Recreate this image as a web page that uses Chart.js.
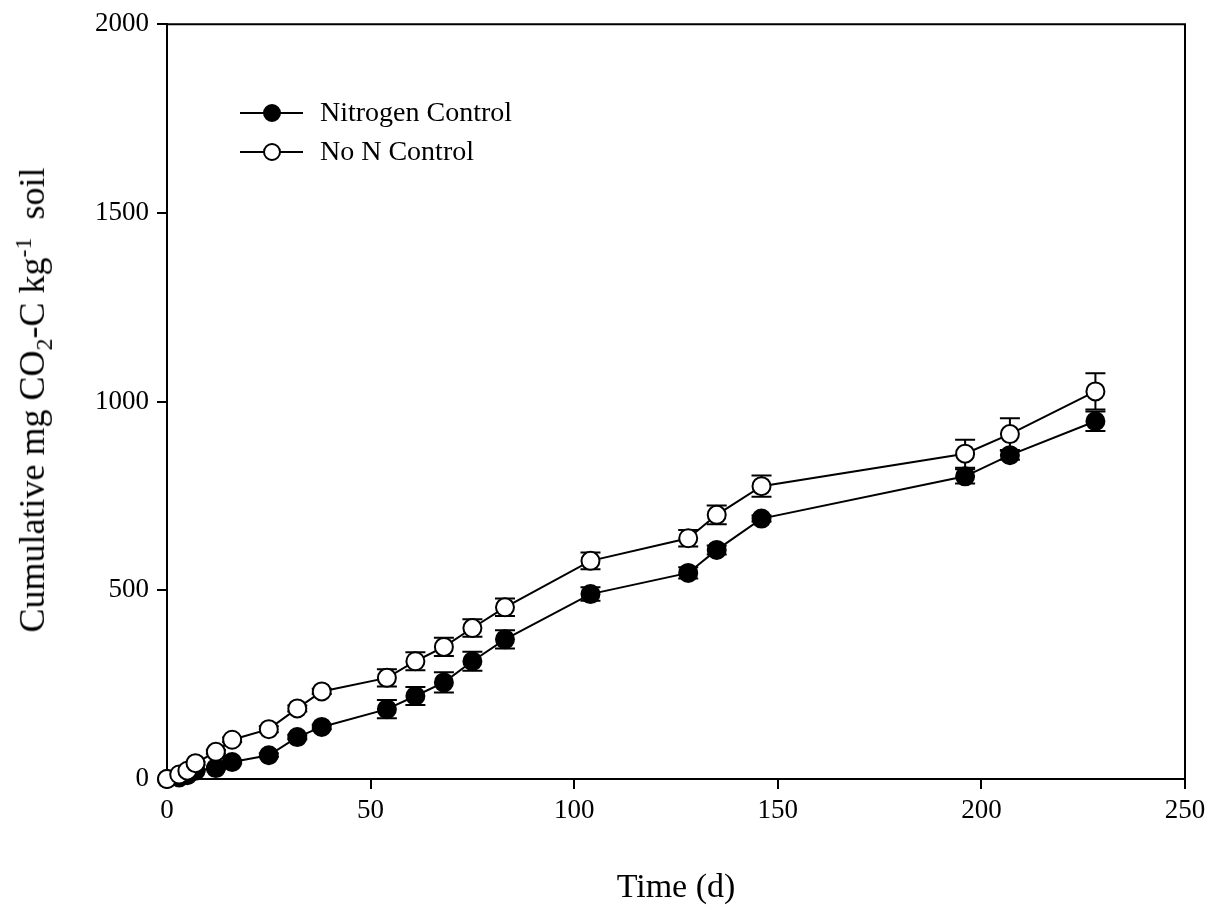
<!DOCTYPE html>
<html>
<head>
<meta charset="utf-8">
<script src="https://cdn.jsdelivr.net/npm/chart.js@4/dist/chart.umd.min.js"></script>
<style>
  html, body { margin: 0; padding: 0; background: #fff; }
  #wrap { position: relative; width: 1214px; height: 912px; }
  #ytitle {
    position: absolute; left: 34px; top: 400px;
    transform: translate(-50%, -50%) rotate(-90deg);
    white-space: nowrap;
    font-family: "Liberation Serif", "Times New Roman", serif;
    font-size: 36px; color: #000;
  }
  #ytitle sub, #ytitle sup { font-size: 24px; }
</style>
</head>
<body>
<div id="wrap">
  <canvas id="co2Chart" width="1214" height="912"></canvas>
  <div id="ytitle">Cumulative mg CO<sub>2</sub>-C kg<sup>-1</sup>&nbsp; soil</div>
</div>
<script>
// days of incubation
const days = [0, 3, 5, 7, 12, 16, 25, 32, 38, 54, 61, 68, 75, 83, 104, 128, 135, 146, 196, 207, 228];

// cumulative CO2-C, mg/kg soil
const nitrogenControl = [0, 4, 10, 22, 29, 45, 63, 111, 138, 185, 220, 256, 312, 370, 490, 546, 607, 690, 802, 858, 948];
const nitrogenErr     = [0, 1, 2, 3, 4, 4, 5, 6, 6, 24, 24, 27, 25, 24, 18, 15, 12, 8, 19, 12, 26];

const noNControl = [0, 12, 22, 42, 72, 104, 132, 187, 232, 268, 312, 350, 400, 455, 578, 638, 700, 776, 862, 914, 1027];
const noNErr     = [0, 2, 3, 4, 5, 6, 8, 8, 7, 23, 24, 24, 23, 23, 22, 22, 25, 28, 37, 42, 48];

const xTicks = [0, 50, 100, 150, 200, 250];
const yTicks = [0, 500, 1000, 1500, 2000];

const serif = '"Liberation Serif", "Times New Roman", serif';

function toPoints(xs, ys, errs) {
    return xs.map((x, i) => ({ x: x, y: ys[i], err: errs[i] }));
}

// vertical error bars with caps, drawn under the markers
const errorBars = {
    id: 'errorBars',
    beforeDatasetsDraw(chart) {
        const ctx = chart.ctx;
        const xs = chart.scales.x, ys = chart.scales.y;
        ctx.save();
        ctx.strokeStyle = '#000';
        ctx.lineWidth = 2;
        chart.data.datasets.forEach(ds => {
            ds.data.forEach(p => {
                if (!p.err) return;
                const px = xs.getPixelForValue(p.x);
                const top = ys.getPixelForValue(p.y + p.err);
                const bot = ys.getPixelForValue(p.y - p.err);
                ctx.beginPath();
                ctx.moveTo(px, top); ctx.lineTo(px, bot);
                ctx.moveTo(px - 10, top); ctx.lineTo(px + 10, top);
                ctx.moveTo(px - 10, bot); ctx.lineTo(px + 10, bot);
                ctx.stroke();
            });
        });
        ctx.restore();
    }
};

// closed frame + line/marker legend
const frameAndLegend = {
    id: 'frameAndLegend',
    afterDraw(chart) {
        const ctx = chart.ctx;
        const a = chart.chartArea;
        ctx.save();
        ctx.strokeStyle = '#000';
        ctx.lineWidth = 2;
        ctx.beginPath();
        ctx.moveTo(a.left, a.top); ctx.lineTo(a.right, a.top); ctx.lineTo(a.right, a.bottom);
        ctx.stroke();

        const items = [
            { label: 'Nitrogen Control', fill: '#000', y: 113 },
            { label: 'No N Control', fill: '#fff', y: 152 }
        ];
        items.forEach(it => {
            ctx.beginPath();
            ctx.moveTo(240, it.y); ctx.lineTo(303, it.y);
            ctx.stroke();
            ctx.beginPath();
            ctx.arc(272, it.y, 8, 0, Math.PI * 2);
            ctx.fillStyle = it.fill;
            ctx.fill();
            ctx.stroke();
            ctx.fillStyle = '#000';
            ctx.font = '28px ' + serif;
            ctx.textBaseline = 'middle';
            ctx.fillText(it.label, 320, it.y + 1);
        });
        ctx.restore();
    }
};

const ctx = document.getElementById('co2Chart').getContext('2d');

new Chart(ctx, {
    type: 'line',
    data: {
        datasets: [
            {
                label: 'Nitrogen Control',
                data: toPoints(days, nitrogenControl, nitrogenErr),
                borderColor: '#000',
                borderWidth: 2,
                backgroundColor: '#000',
                pointBackgroundColor: '#000',
                pointBorderColor: '#000',
                pointBorderWidth: 2,
                pointRadius: 9,
                tension: 0,
                clip: false,
                order: 1
            },
            {
                label: 'No N Control',
                data: toPoints(days, noNControl, noNErr),
                borderColor: '#000',
                borderWidth: 2,
                backgroundColor: '#fff',
                pointBackgroundColor: '#fff',
                pointBorderColor: '#000',
                pointBorderWidth: 2,
                pointRadius: 9,
                tension: 0,
                clip: false,
                order: 0
            }
        ]
    },
    options: {
        responsive: false,
        animation: false,
        layout: { padding: { left: 0, right: 29, top: 22, bottom: 0 } },
        plugins: {
            legend: { display: false },
            tooltip: { enabled: false }
        },
        scales: {
            x: {
                type: 'linear',
                min: 0, max: 250,
                afterBuildTicks: s => { s.ticks = xTicks.map(v => ({ value: v })); },
                afterFit: s => { s.height = 133; },
                ticks: { color: '#000', font: { family: serif, size: 27 }, padding: 6, maxRotation: 0, callback: v => String(v) },
                grid: { drawOnChartArea: false, drawTicks: true, tickLength: 10, color: '#000', lineWidth: 2 },
                border: { display: true, color: '#000', width: 2 },
                title: { display: true, text: 'Time (d)', color: '#000', font: { family: serif, size: 34 }, padding: { top: 14 } }
            },
            y: {
                min: 0, max: 2000,
                afterBuildTicks: s => { s.ticks = yTicks.map(v => ({ value: v })); },
                afterFit: s => { s.width = 167; },
                ticks: { color: '#000', font: { family: serif, size: 27 }, padding: 8, callback: v => String(v) },
                grid: { drawOnChartArea: false, drawTicks: true, tickLength: 10, color: '#000', lineWidth: 2 },
                border: { display: true, color: '#000', width: 2 }
            }
        }
    },
    plugins: [errorBars, frameAndLegend]
});
</script>
</body>
</html>
